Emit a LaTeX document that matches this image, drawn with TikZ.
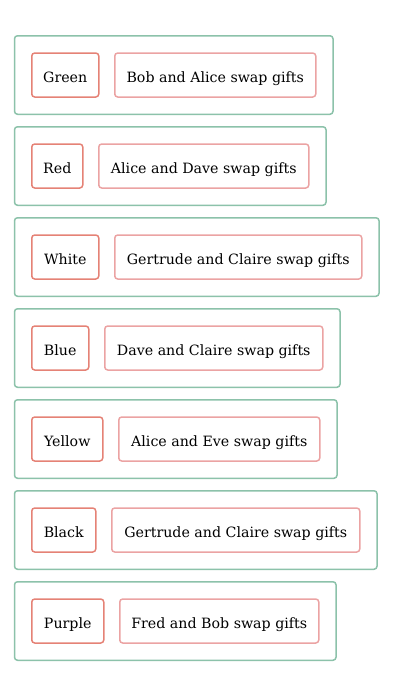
\documentclass[tikz,border=0pt]{standalone}
\usepackage{fontspec}
\setmainfont{DejaVu Serif}
\usetikzlibrary{fit}
\definecolor{outerg}{RGB}{140,194,170}
\definecolor{colbox}{RGB}{229,130,118}
\definecolor{actbox}{RGB}{235,163,163}
\tikzset{
  x=1pt,y=-1pt,
  inbox/.style={draw, line width=1.5pt, rounded corners=3pt, minimum height=44pt,
    inner sep=0pt, anchor=west, font=\fontsize{14.2}{16}\selectfont, text height=14pt, text depth=0pt},
  colnode/.style={inbox, draw=colbox},
  actnode/.style={inbox, draw=actbox},
  outerbox/.style={draw=outerg, line width=1.5pt, rounded corners=3pt, inner sep=16.5pt}
}
\begin{document}
\begin{tikzpicture}
\useasboundingbox (0,0) rectangle (400,675);
\foreach \i/\col/\cw/\ax/\aw/\act in {
  1/Green/67/114/201/Bob and Alice swap gifts,
  2/Red/51/98/210/Alice and Dave swap gifts,
  3/White/67/114/247/Gertrude and Claire swap gifts,
  4/Blue/57/104/218/Dave and Claire swap gifts,
  5/Yellow/71/118/201/Alice and Eve swap gifts,
  6/Black/64/111/248/Gertrude and Claire swap gifts,
  7/Purple/72/119/199/Fred and Bob swap gifts}{
  \pgfmathsetmacro{\cy}{75+91*(\i-1)}
  \node[colnode, minimum width=\cw pt] (c\i) at (31,\cy) {\col};
  \node[actnode, minimum width=\aw pt] (a\i) at (\ax,\cy) {\act};
  \node[outerbox, fit=(c\i)(a\i)] (o\i) {};
}
\end{tikzpicture}
\end{document}
